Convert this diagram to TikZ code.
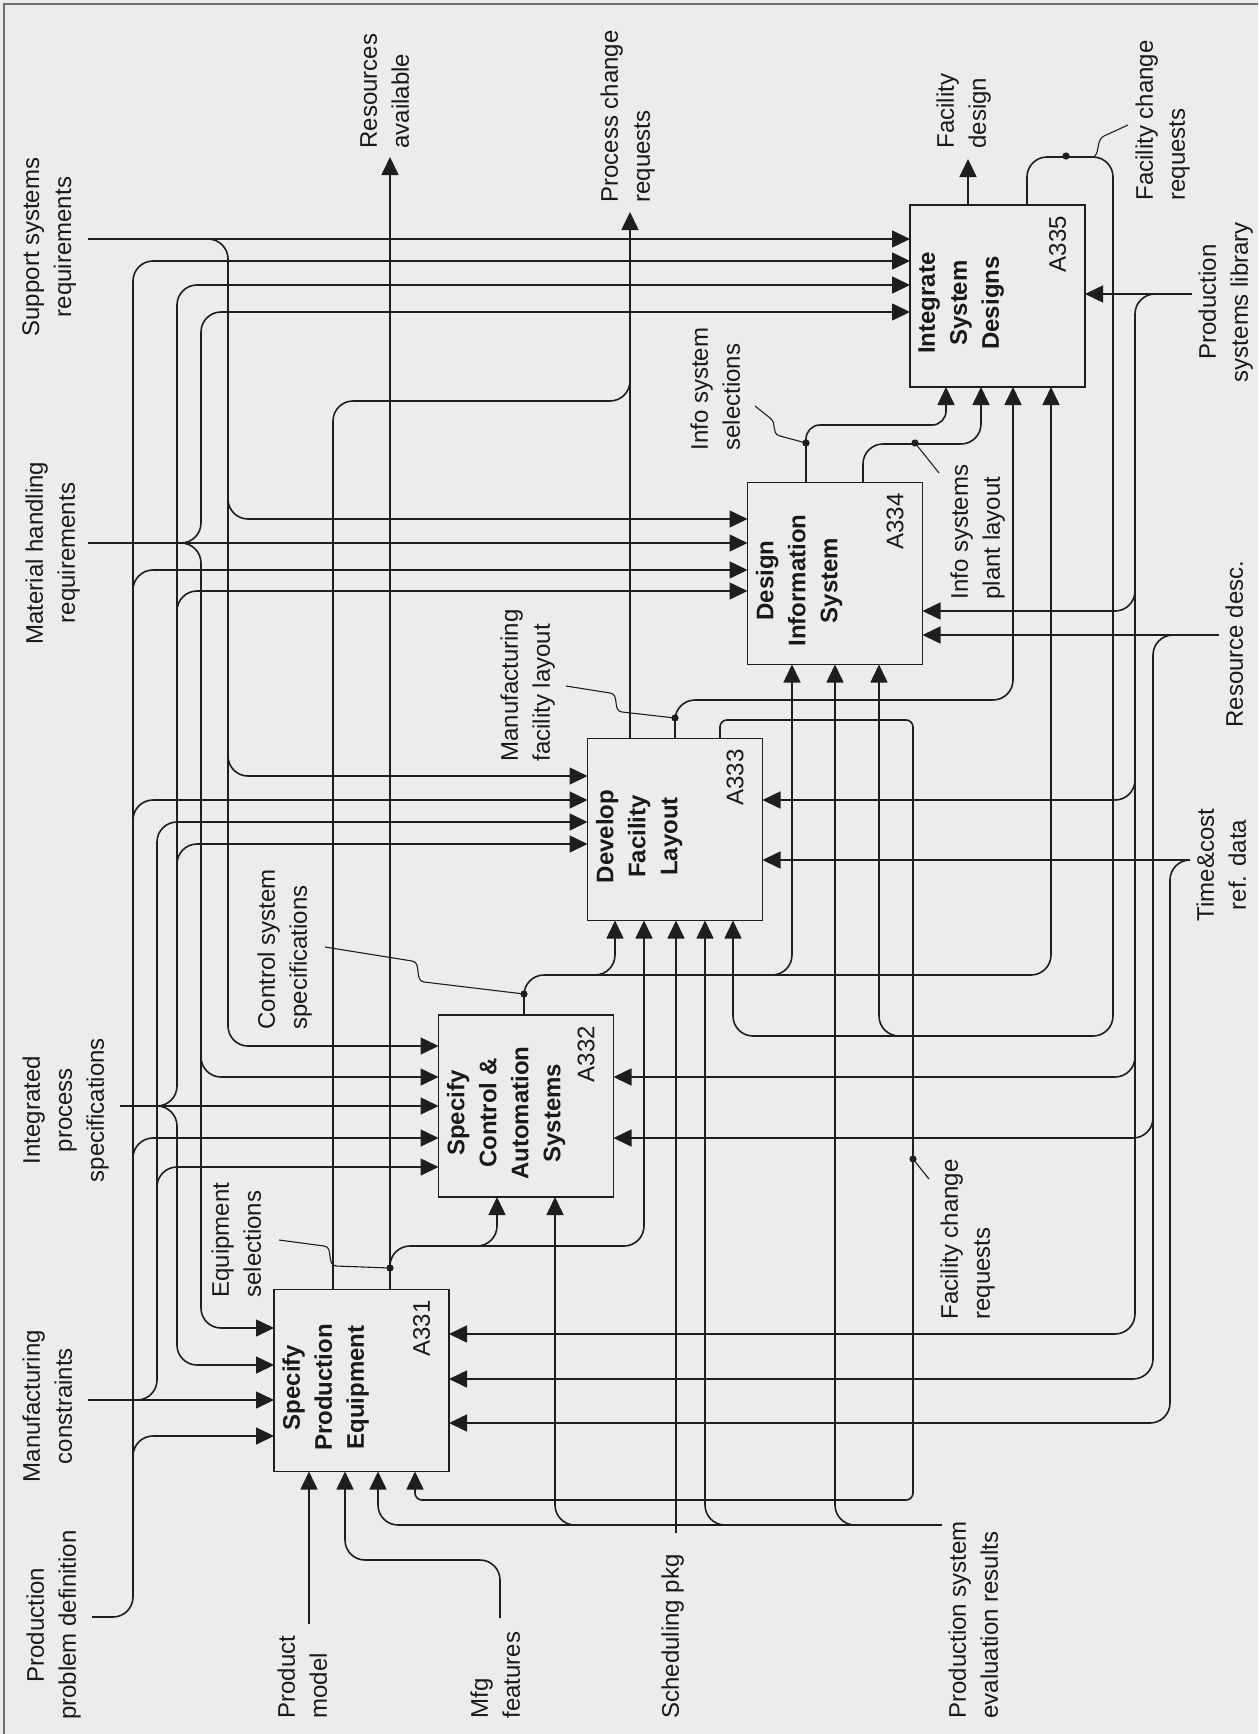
\documentclass[tikz,border=0pt]{standalone}
\usepackage{fontspec}
\setmainfont{Liberation Sans}
\usetikzlibrary{arrows.meta}
\definecolor{bgc}{RGB}{236,236,236}
\definecolor{lc}{RGB}{30,30,30}
\definecolor{tc}{RGB}{25,25,25}
\definecolor{fc}{RGB}{110,110,110}
\begin{document}
\begin{tikzpicture}[x=0.5pt,y=-0.5pt,
  ln/.style={draw=lc,line width=0.8pt,rounded corners=10pt},
  arr/.style={ln,-{Triangle[length=9pt,width=8.5pt]}},
  sq/.style={draw=lc,line width=0.55pt},
  dot/.style={fill=lc},
  box/.style={draw=lc,line width=0.9pt,minimum width=87.5pt,minimum height=91pt,inner sep=0pt,outer sep=0pt},
  ttl/.style={rotate=90,anchor=north,align=center,inner sep=0pt,text=tc,font=\bfseries\fontsize{12}{16}\selectfont},
  idl/.style={rotate=90,inner sep=0pt,text=tc,font=\fontsize{12}{16}\selectfont},
  lblc/.style={rotate=90,anchor=north,align=center,inner sep=0pt,text=tc,font=\fontsize{12}{16}\selectfont},
  lbll/.style={rotate=90,anchor=north west,align=left,inner sep=0pt,text=tc,font=\fontsize{12}{16}\selectfont},
]
\fill[bgc] (0,0) rectangle (1258,1734);
\useasboundingbox (0,0) rectangle (1258,1734);
\draw[fc,line width=0.6pt] (4,1734) -- (4,4) -- (1258,4);

% boxes
\node[box] (A331) at (361.5,1380.5) {};
\node[box] (A332) at (526,1106) {};
\node[box] (A333) at (675,829.5) {};
\node[box] (A334) at (835,573.5) {};
\node[box] (A335) at (997.5,296) {};

\node[ttl] (T331) at (282,1387.5) {Specify\\Production\\Equipment};
\node[ttl] (T332) at (446.5,1113) {Specify\\Control \&\\Automation\\Systems};
\node[ttl] (T333) at (595.5,836.5) {Develop\\Facility\\Layout};
\node[ttl] (T334) at (755.5,580.5) {Design\\Information\\System};
\node[ttl] (T335) at (918,303) {Integrate\\System\\Designs};

\node[idl] (I331) at (421.5,1328.5) {A331};
\node[idl] (I332) at (586,1054) {A332};
\node[idl] (I333) at (735,777.5) {A333};
\node[idl] (I334) at (895,521.5) {A334};
\node[idl] (I335) at (1057.5,244) {A335};

% ---------- controls (from left) ----------
% Support systems requirements
\draw[arr] (88,239) -- (A335.west|-0,239);
\draw[arr] (201,239) -- (228,239) -- (228,1046) -- (A332.west|-0,1046);
\draw[arr] (228,489) -- (228,519) -- (A334.west|-0,519);
\draw[arr] (228,746) -- (228,776) -- (A333.west|-0,776);
% Material handling requirements
\draw[arr] (88,543) -- (A334.west|-0,543);
\draw[arr] (177,543) -- (201,543) -- (201,312) -- (A335.west|-0,312);
\draw[arr] (177,543) -- (201,543) -- (201,1328) -- (A331.west|-0,1328);
\draw[arr] (201,1047) -- (201,1077) -- (A332.west|-0,1077);
% Integrated process specifications
\draw[arr] (120,1106) -- (A332.west|-0,1106);
\draw[arr] (155,1106) -- (177,1106) -- (177,285) -- (A335.west|-0,285);
\draw[arr] (155,1106) -- (177,1106) -- (177,1365) -- (A331.west|-0,1365);
\draw[arr] (177,621) -- (177,591) -- (A334.west|-0,591);
\draw[arr] (177,874) -- (177,844) -- (A333.west|-0,844);
% Manufacturing constraints
\draw[arr] (88,1400) -- (A331.west|-0,1400);
\draw[arr] (135,1400) -- (157,1400) -- (157,822) -- (A333.west|-0,822);
\draw[arr] (157,1197) -- (157,1167) -- (A332.west|-0,1167);
% Production problem definition
\draw[arr] (92,1617) -- (133,1617) -- (133,261) -- (A335.west|-0,261);
\draw[arr] (133,600) -- (133,570) -- (A334.west|-0,570);
\draw[arr] (133,830) -- (133,800) -- (A333.west|-0,800);
\draw[arr] (133,1168) -- (133,1138) -- (A332.west|-0,1138);
\draw[arr] (133,1466) -- (133,1436) -- (A331.west|-0,1436);

% ---------- mechanisms (from right) ----------
% Production systems library
\draw[arr] (1192,294) -- (A335.east|-0,294);
\draw[arr] (1157,294) -- (1135,294) -- (1135,1334) -- (A331.east|-0,1334);
\draw[arr] (1135,581) -- (1135,611) -- (A334.east|-0,611);
\draw[arr] (1135,770) -- (1135,800) -- (A333.east|-0,800);
\draw[arr] (1135,1047) -- (1135,1077) -- (A332.east|-0,1077);
% Resource desc.
\draw[arr] (1219,635) -- (A334.east|-0,635);
\draw[arr] (1174,635) -- (1153,635) -- (1153,1379) -- (A331.east|-0,1379);
\draw[arr] (1153,1108) -- (1153,1138) -- (A332.east|-0,1138);
% Time&cost ref. data
\draw[arr] (1190,860) -- (A333.east|-0,860);
\draw[arr] (1190,860) -- (1170,860) -- (1170,1423) -- (A331.east|-0,1423);

% ---------- outputs and feedback ----------
\draw[ln] (A331.north-|333,0) -- (333,401) -- (630,401) -- (630,370);
\draw[arr] (A333.north-|630,0) -- (630,212);
\draw[arr] (A331.north-|390,0) -- (390,157);
\draw[arr] (390,1276) -- (390,1246) -- (644,1246) -- (A333.south-|644,0);
\draw[arr] (475,1246) -- (497,1246) -- (A332.south-|497,0);
% Control system specifications
\draw[arr] (A332.north-|524,0) -- (524,975) -- (1051,975) -- (A335.south-|1051,0);
\draw[arr] (595,975) -- (615,975) -- (A333.south-|615,0);
\draw[arr] (772,975) -- (792,975) -- (A334.south-|792,0);
% Manufacturing facility layout
\draw[arr] (A333.north-|675,0) -- (675,700) -- (1013,700) -- (A335.south-|1013,0);
% Facility change requests (A333 loop)
\draw[arr,rounded corners=3.5pt] (A333.north-|720,0) -- (720,720) -- (913,720) -- (913,1500) -- (415,1500) -- (A331.south-|415,0);
% Facility change requests (A335 loop)
\draw[arr] (A335.north-|1027,0) -- (1027,157) -- (1113,157) -- (1113,1036) -- (733,1036) -- (A333.south-|733,0);
\draw[arr] (901,1036) -- (879,1036) -- (A334.south-|879,0);
% Info system selections / plant layout
\draw[arr,rounded corners=7pt] (A334.north-|806,0) -- (806,425) -- (946,425) -- (A335.south-|946,0);
\draw[arr] (A334.north-|863,0) -- (863,444) -- (981,444) -- (A335.south-|981,0);
% Facility design
\draw[arr] (A335.north-|968,0) -- (968,159);

% ---------- inputs (from bottom) ----------
\draw[arr] (942,1525) -- (378,1525) -- (A331.south-|378,0);
\draw[arr] (857,1525) -- (835,1525) -- (A334.south-|835,0);
\draw[arr] (727,1525) -- (705,1525) -- (A333.south-|705,0);
\draw[arr] (577,1525) -- (555,1525) -- (A332.south-|555,0);
\draw[arr] (309,1624) -- (A331.south-|309,0);
\draw[arr] (500,1618) -- (500,1560) -- (345,1560) -- (A331.south-|345,0);
\draw[arr] (676,1533) -- (A333.south-|676,0);

% ---------- squiggles and dots ----------
\draw[sq] (279,1240) -- (324,1246) .. controls (334,1247) and (326,1265) .. (336,1266) -- (390,1268);
\fill[dot] (390,1268) circle[radius=1.8pt];
\draw[sq] (325,947) -- (412,961) .. controls (422,962) and (414,981) .. (424,982) -- (524,994);
\fill[dot] (524,994) circle[radius=1.8pt];
\draw[sq] (566,686) -- (610,693) .. controls (620,694) and (612,711) .. (622,712) -- (675,718);
\fill[dot] (675,718) circle[radius=1.8pt];
\draw[sq] (755,406) -- (770,418) .. controls (778,424) and (770,433) .. (780,436) -- (806,443);
\fill[dot] (806,443) circle[radius=1.8pt];
\draw[sq] (939,473) -- (915,443);
\fill[dot] (915,443) circle[radius=1.8pt];
\draw[sq] (1128,125) -- (1104,136) .. controls (1096,140) and (1100,152) .. (1094,157);
\fill[dot] (1066,156) circle[radius=1.8pt];
\draw[sq] (929,1179) -- (913,1159);
\fill[dot] (913,1159) circle[radius=1.8pt];

% ---------- labels ----------
\node[lblc] (tS) at (22,247) {Support systems\\requirements};
\node[lblc] (tM) at (25,553) {Material handling\\requirements};
\node[lblc] (tI) at (22,1110) {Integrated\\process\\specifications};
\node[lblc] (tMC) at (22,1406) {Manufacturing\\constraints};
\node[lblc] (tPPD) at (26,1625) {Production\\problem definition};
\node[lblc] (tPSL) at (1198,302) {Production\\systems library};
\node[lblc] (tRD) at (1225,644) {Resource desc.};
\node[lblc] (tTC) at (1196,865) {Time\&cost\\ref. data};

\node[lbll] (tRA) at (360,149) {Resources\\available};
\node[lbll] (tPCR) at (600,203) {Process change\\requests};
\node[lbll] (tFD) at (936,149) {Facility\\design};
\node[lbll] (tFCR1) at (1135,201) {Facility change\\requests};
\node[lbll] (tISS) at (690,451) {Info system\\selections};
\node[lbll] (tISPL) at (950,600) {Info systems\\plant layout};
\node[lbll] (tMFL) at (500,762) {Manufacturing\\facility layout};
\node[lbll] (tCSS) at (257,1030) {Control system\\specifications};
\node[lbll] (tES) at (211,1298) {Equipment\\selections};
\node[lbll] (tFCR2) at (940,1320) {Facility change\\requests};
\node[lbll] (tPM) at (277,1719) {Product\\model};
\node[lbll] (tMF) at (470,1719) {Mfg\\features};
\node[lbll] (tSP) at (661,1719) {Scheduling pkg};
\node[lbll] (tPSER) at (948,1719) {Production system\\evaluation results};
\end{tikzpicture}
\end{document}
